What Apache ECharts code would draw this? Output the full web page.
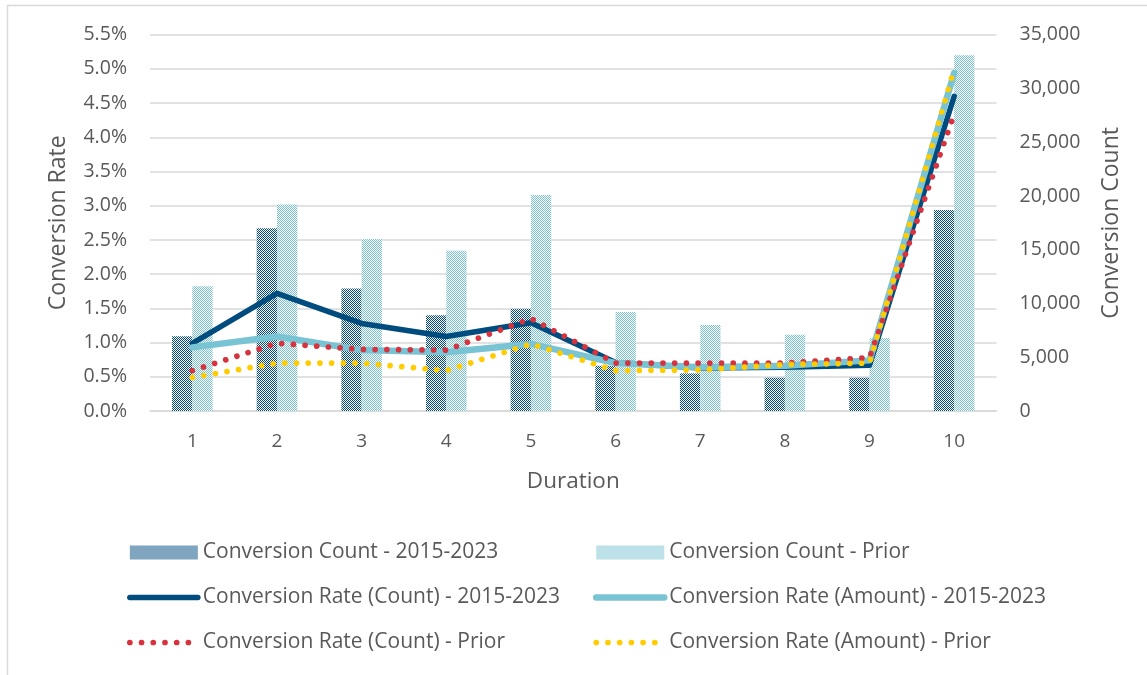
<!DOCTYPE html>
<html>
<head>
<meta charset="utf-8">
<title>Conversion by Duration</title>
<script src="https://cdn.jsdelivr.net/npm/echarts@6/dist/echarts.min.js"></script>
<style>
  html, body { margin: 0; padding: 0; background: #ffffff; }
  #chart { width: 1147px; height: 675px; }
</style>
</head>
<body>
<div id="chart"></div>
<script>
// Duration buckets
const categories = ['1', '2', '3', '4', '5', '6', '7', '8', '9', '10'];

// Conversion counts (right axis)
const countRecent = [6950, 17000, 11400, 8900, 9500, 4200, 3500, 3100, 3100, 18700];
const countPrior  = [11600, 19200, 16000, 14900, 20100, 9200, 8000, 7100, 6800, 33100];

// Conversion rates in percent (left axis)
const rateCountRecent  = [0.99, 1.72, 1.28, 1.09, 1.29, 0.71, 0.63, 0.64, 0.67, 4.60];
const rateAmountRecent = [0.93, 1.09, 0.89, 0.86, 0.98, 0.70, 0.64, 0.66, 0.74, 4.94];
const rateCountPrior   = [0.59, 0.99, 0.90, 0.89, 1.35, 0.70, 0.70, 0.70, 0.78, 4.34];
const rateAmountPrior  = [0.49, 0.70, 0.70, 0.59, 0.98, 0.59, 0.60, 0.68, 0.70, 5.00];

// Axis ticks
const rateTicks  = { min: 0, max: 5.5, step: 0.5 };
const countTicks = { min: 0, max: 35000, step: 5000 };

const NAMES = {
  countRecent: 'Conversion Count - 2015-2023',
  countPrior: 'Conversion Count - Prior',
  rateCountRecent: 'Conversion Rate (Count) - 2015-2023',
  rateAmountRecent: 'Conversion Rate (Amount) - 2015-2023',
  rateCountPrior: 'Conversion Rate (Count) - Prior',
  rateAmountPrior: 'Conversion Rate (Amount) - Prior'
};

const NAVY = '#004C7F';
const SKY = '#79C4D4';
const RED = '#D7333F';
const GOLD = '#FFCC00';
const TEXT = '#595959';
const GRID = '#D9D9D9';
const FONT = '"Open Sans", Lato, sans-serif';

// 1px checkerboard fill used for the bars
function checker(color) {
  const c = document.createElement('canvas');
  c.width = 2; c.height = 2;
  const ctx = c.getContext('2d');
  ctx.fillStyle = '#ffffff';
  ctx.fillRect(0, 0, 2, 2);
  ctx.fillStyle = color;
  ctx.fillRect(0, 0, 1, 1);
  ctx.fillRect(1, 1, 1, 1);
  return { image: c, repeat: 'repeat' };
}

const dots = [0.01, 11.7];

// Legend entries: plain rectangles for bars, bare strokes for lines
function barEntry(name) {
  return { name: name, icon: 'rect' };
}
function lineEntry(name, width) {
  return { name: name, itemStyle: { opacity: 0 }, lineStyle: { width: width } };
}

const legendText = { fontFamily: FONT, fontSize: 21, color: TEXT };

const chart = echarts.init(document.getElementById('chart'), null, { renderer: 'canvas' });

chart.setOption({
  backgroundColor: '#ffffff',
  animation: false,
  textStyle: { fontFamily: FONT, color: TEXT },
  graphic: [{
    type: 'rect',
    shape: { x: 7.5, y: 5.5, width: 1200, height: 700 },
    style: { fill: 'none', stroke: GRID, lineWidth: 1.5 },
    silent: true
  }],
  grid: { left: 150, right: 150.5, top: 34.7, bottom: 264, containLabel: false },
  legend: [
    {
      orient: 'vertical', left: 127, top: 542, padding: 0,
      itemWidth: 68, itemHeight: 14, itemGap: 24,
      textStyle: legendText,
      data: [
        barEntry(NAMES.countRecent),
        lineEntry(NAMES.rateCountRecent, 5.5),
        lineEntry(NAMES.rateCountPrior, 5.7)
      ]
    },
    {
      orient: 'vertical', left: 593, top: 542, padding: 0,
      itemWidth: 68, itemHeight: 14, itemGap: 24,
      textStyle: legendText,
      data: [
        barEntry(NAMES.countPrior),
        lineEntry(NAMES.rateAmountRecent, 6.5),
        lineEntry(NAMES.rateAmountPrior, 5.7)
      ]
    }
  ],
  xAxis: {
    type: 'category',
    data: categories,
    name: 'Duration',
    nameLocation: 'middle',
    nameGap: 59,
    nameTextStyle: { fontFamily: FONT, fontSize: 22.5, color: TEXT },
    axisLine: { show: true, lineStyle: { color: GRID, width: 1.5 } },
    axisTick: { show: false },
    axisLabel: { fontFamily: FONT, fontSize: 19, color: TEXT, margin: 21 }
  },
  yAxis: [
    {
      type: 'value',
      min: rateTicks.min, max: rateTicks.max, interval: rateTicks.step,
      name: 'Conversion Rate',
      nameLocation: 'middle',
      nameGap: 80,
      nameTextStyle: { fontFamily: FONT, fontSize: 23, color: TEXT },
      axisLine: { show: false },
      axisTick: { show: false },
      splitLine: { lineStyle: { color: GRID, width: 1.5 } },
      axisLabel: {
        fontFamily: FONT, fontSize: 19.5, color: TEXT, margin: 23,
        formatter: v => v.toFixed(1) + '%'
      }
    },
    {
      type: 'value',
      min: countTicks.min, max: countTicks.max, interval: countTicks.step,
      name: 'Conversion Count',
      nameLocation: 'middle',
      nameGap: 103,
      nameTextStyle: { fontFamily: FONT, fontSize: 23, color: TEXT },
      axisLine: { show: false },
      axisTick: { show: false },
      splitLine: { show: false },
      axisLabel: {
        fontFamily: FONT, fontSize: 19.5, color: TEXT, margin: 23,
        formatter: v => v.toLocaleString('en-US')
      }
    }
  ],
  series: [
    {
      name: NAMES.countRecent, type: 'bar', yAxisIndex: 1,
      data: countRecent, barWidth: 20.3, barGap: '0%',
      itemStyle: { color: checker(NAVY) }
    },
    {
      name: NAMES.countPrior, type: 'bar', yAxisIndex: 1,
      data: countPrior, barWidth: 20.3, barGap: '0%',
      itemStyle: { color: checker(SKY) }
    },
    {
      name: NAMES.rateCountRecent, type: 'line', yAxisIndex: 0,
      data: rateCountRecent, symbol: 'none',
      itemStyle: { color: NAVY },
      lineStyle: { color: NAVY, width: 5.5, cap: 'round', join: 'round' }
    },
    {
      name: NAMES.rateAmountRecent, type: 'line', yAxisIndex: 0,
      data: rateAmountRecent, symbol: 'none',
      itemStyle: { color: SKY },
      lineStyle: { color: SKY, width: 6.5, cap: 'round', join: 'round' }
    },
    {
      name: NAMES.rateCountPrior, type: 'line', yAxisIndex: 0,
      data: rateCountPrior, symbol: 'none',
      itemStyle: { color: RED },
      lineStyle: { color: RED, width: 5.7, type: dots, cap: 'round', join: 'round' }
    },
    {
      name: NAMES.rateAmountPrior, type: 'line', yAxisIndex: 0,
      data: rateAmountPrior, symbol: 'none',
      itemStyle: { color: GOLD },
      lineStyle: { color: GOLD, width: 5.7, type: dots, cap: 'round', join: 'round' }
    }
  ]
});
</script>
</body>
</html>
